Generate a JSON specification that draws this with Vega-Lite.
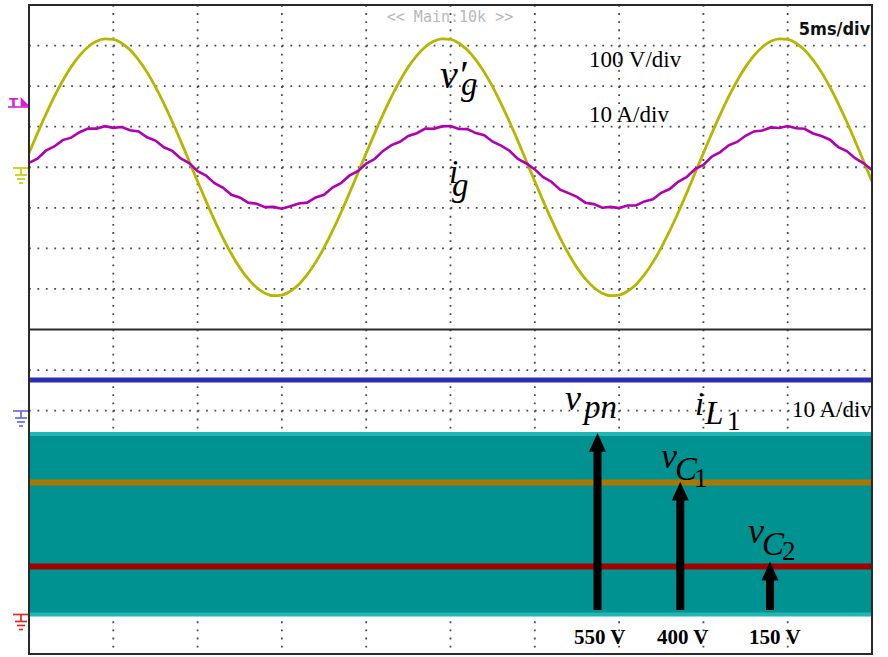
{
 "$schema": "https://vega.github.io/schema/vega-lite/v6.json",
 "width": 888,
 "height": 657,
 "autosize": {"type": "fit", "contains": "padding"},
 "padding": 0,
 "background": "white",
 "config": {"view": {"stroke": null}},
 "resolve": {"scale": {"y": "independent", "color": "independent"}},
 "datasets": {
  "top": [
   {"t":0,"vg":34.8,"ig":1.08},{"t":0.5,"vg":83.6,"ig":2.13},{"t":1,"vg":130.5,"ig":4.08},{"t":1.5,"vg":174.0,"ig":5.12},{"t":2,"vg":213.3,"ig":6.69},{"t":2.5,"vg":247.4,"ig":7.30},{"t":3,"vg":275.3,"ig":8.63},{"t":3.5,"vg":296.5,"ig":9.54},{"t":4,"vg":310.4,"ig":9.52},{"t":4.5,"vg":316.7,"ig":10.12},
   {"t":5,"vg":315.1,"ig":9.72},{"t":5.5,"vg":305.8,"ig":9.92},{"t":6,"vg":288.9,"ig":9.14},{"t":6.5,"vg":264.9,"ig":8.83},{"t":7,"vg":234.5,"ig":7.40},{"t":7.5,"vg":198.2,"ig":6.59},{"t":8,"vg":157.1,"ig":4.92},{"t":8.5,"vg":112.1,"ig":4.03},{"t":9,"vg":64.3,"ig":2.18},{"t":9.5,"vg":14.9,"ig":1.03},
   {"t":10,"vg":-34.8,"ig":-0.98},{"t":10.5,"vg":-83.6,"ig":-2.03},{"t":11,"vg":-130.5,"ig":-3.93},{"t":11.5,"vg":-174.0,"ig":-5.02},{"t":12,"vg":-213.3,"ig":-6.79},{"t":12.5,"vg":-247.4,"ig":-7.45},{"t":13,"vg":-275.3,"ig":-8.73},{"t":13.5,"vg":-296.5,"ig":-8.99},{"t":14,"vg":-310.4,"ig":-9.82},{"t":14.5,"vg":-316.7,"ig":-9.77},
   {"t":15,"vg":-315.1,"ig":-10.22},{"t":15.5,"vg":-305.8,"ig":-9.62},{"t":16,"vg":-288.9,"ig":-8.94},{"t":16.5,"vg":-264.9,"ig":-8.73},{"t":17,"vg":-234.5,"ig":-7.45},{"t":17.5,"vg":-198.2,"ig":-6.79},{"t":18,"vg":-157.1,"ig":-5.02},{"t":18.5,"vg":-112.1,"ig":-3.93},{"t":19,"vg":-64.3,"ig":-2.08},{"t":19.5,"vg":-14.9,"ig":-0.98},
   {"t":20,"vg":34.8,"ig":0.88},{"t":20.5,"vg":83.6,"ig":2.03},{"t":21,"vg":130.5,"ig":4.03},{"t":21.5,"vg":174.0,"ig":5.47},{"t":22,"vg":213.3,"ig":6.29},{"t":22.5,"vg":247.4,"ig":7.70},{"t":23,"vg":275.3,"ig":8.38},{"t":23.5,"vg":296.5,"ig":9.54},{"t":24,"vg":310.4,"ig":9.47},{"t":24.5,"vg":316.7,"ig":10.07},
   {"t":25,"vg":315.1,"ig":10.17},{"t":25.5,"vg":305.8,"ig":9.42},{"t":26,"vg":288.9,"ig":9.39},{"t":26.5,"vg":264.9,"ig":8.43},{"t":27,"vg":234.5,"ig":7.90},{"t":27.5,"vg":198.2,"ig":6.29},{"t":28,"vg":157.1,"ig":5.32},{"t":28.5,"vg":112.1,"ig":4.08},{"t":29,"vg":64.3,"ig":2.03},{"t":29.5,"vg":14.9,"ig":0.93},
   {"t":30,"vg":-34.8,"ig":-0.53},{"t":30.5,"vg":-83.6,"ig":-2.43},{"t":31,"vg":-130.5,"ig":-3.63},{"t":31.5,"vg":-174.0,"ig":-5.52},{"t":32,"vg":-213.3,"ig":-6.39},{"t":32.5,"vg":-247.4,"ig":-7.30},{"t":33,"vg":-275.3,"ig":-8.73},{"t":33.5,"vg":-296.5,"ig":-9.09},{"t":34,"vg":-310.4,"ig":-9.97},{"t":34.5,"vg":-316.7,"ig":-9.77},
   {"t":35,"vg":-315.1,"ig":-10.07},{"t":35.5,"vg":-305.8,"ig":-9.42},{"t":36,"vg":-288.9,"ig":-9.44},{"t":36.5,"vg":-264.9,"ig":-8.43},{"t":37,"vg":-234.5,"ig":-7.90},{"t":37.5,"vg":-198.2,"ig":-6.29},{"t":38,"vg":-157.1,"ig":-5.37},{"t":38.5,"vg":-112.1,"ig":-3.58},{"t":39,"vg":-64.3,"ig":-2.43},{"t":39.5,"vg":-14.9,"ig":-0.48},
   {"t":40,"vg":34.8,"ig":0.58},{"t":40.5,"vg":83.6,"ig":2.63},{"t":41,"vg":130.5,"ig":3.73},{"t":41.5,"vg":174.0,"ig":5.42},{"t":42,"vg":213.3,"ig":6.24},{"t":42.5,"vg":247.4,"ig":7.75},{"t":43,"vg":275.3,"ig":8.83},{"t":43.5,"vg":296.5,"ig":9.04},{"t":44,"vg":310.4,"ig":9.82},{"t":44.5,"vg":316.7,"ig":9.67},
   {"t":45,"vg":315.1,"ig":10.17},{"t":45.5,"vg":305.8,"ig":9.62},{"t":46,"vg":288.9,"ig":9.49},{"t":46.5,"vg":264.9,"ig":8.33},{"t":47,"vg":234.5,"ig":7.70},{"t":47.5,"vg":198.2,"ig":6.79},{"t":48,"vg":157.1,"ig":4.97},{"t":48.5,"vg":112.1,"ig":3.98},{"t":49,"vg":64.3,"ig":2.23},{"t":49.5,"vg":14.9,"ig":0.98},
   {"t":50,"vg":-34.8,"ig":-0.68}
  ],
  "band": [{"trace":"v_pn","ta":0,"tb":50,"lo":0,"hi":550}],
  "arrows": [
   {"trace":"v_pn","t":33.719,"base":13.7,"neck":523.1,"tip":553.1},
   {"trace":"v_C1","t":38.63,"base":13.7,"neck":374.7,"tip":404.7},
   {"trace":"v_C2","t":43.95,"base":13.7,"neck":130.9,"tip":160.9}
  ]
 },
 "layer": [
  {
   "data": {"values": [{"t":5,"da":0,"db":16},{"t":10,"da":0,"db":16},{"t":15,"da":0,"db":16},{"t":20,"da":0,"db":16},{"t":25,"da":0,"db":16},{"t":30,"da":0,"db":16},{"t":35,"da":0,"db":16},{"t":40,"da":0,"db":16},{"t":45,"da":0,"db":16}]},
   "mark": {"type": "rule", "stroke": "#4a4a4a", "strokeWidth": 1.8, "strokeDash": [1.8, 6.31]},
   "encoding": {
    "x": {"field": "t", "type": "quantitative", "scale": {"domain": [-1.72, 50.949], "nice": false, "zero": false}, "axis": null},
    "y": {"field": "da", "type": "quantitative", "scale": {"domain": [-0.1233, 16.074], "reverse": true, "nice": false, "zero": false}, "axis": null},
    "y2": {"field": "db"}
   }
  },
  {
   "data": {"values": [{"d":1,"ta":0,"tb":50},{"d":2,"ta":0,"tb":50},{"d":3,"ta":0,"tb":50},{"d":4,"ta":0,"tb":50},{"d":5,"ta":0,"tb":50},{"d":6,"ta":0,"tb":50},{"d":7,"ta":0,"tb":50},{"d":9,"ta":0,"tb":50},{"d":10,"ta":0,"tb":50},{"d":11,"ta":0,"tb":50},{"d":12,"ta":0,"tb":50},{"d":13,"ta":0,"tb":50},{"d":14,"ta":0,"tb":50},{"d":15,"ta":0,"tb":50}]},
   "mark": {"type": "rule", "stroke": "#4a4a4a", "strokeWidth": 1.8, "strokeDash": [1.8, 6.63]},
   "encoding": {
    "x": {"field": "ta", "type": "quantitative", "scale": {"domain": [-1.72, 50.949], "nice": false, "zero": false}, "axis": null},
    "x2": {"field": "tb"},
    "y": {"field": "d", "type": "quantitative", "scale": {"domain": [-0.1233, 16.074], "reverse": true, "nice": false, "zero": false}, "axis": null}
   }
  },
  {
   "data": {"name": "band"},
   "mark": {"type": "rect", "fill": "#009291"},
   "encoding": {
    "x": {"field": "ta", "type": "quantitative", "scale": {"domain": [-1.72, 50.949], "nice": false, "zero": false}, "axis": null},
    "x2": {"field": "tb"},
    "y": {"field": "hi", "type": "quantitative", "scale": {"domain": [-129.5, 1872.4], "nice": false, "zero": false}, "axis": null},
    "y2": {"field": "lo"}
   }
  },
  {
   "data": {"name": "band"},
   "mark": {"type": "rule", "stroke": "#1fb6b6", "strokeWidth": 4},
   "encoding": {
    "x": {"field": "ta", "type": "quantitative", "scale": {"domain": [-1.72, 50.949], "nice": false, "zero": false}, "axis": null},
    "x2": {"field": "tb"},
    "y": {"field": "hi", "type": "quantitative", "scale": {"domain": [-129.5, 1872.4], "nice": false, "zero": false}, "axis": null}
   }
  },
  {
   "data": {"name": "band"},
   "mark": {"type": "rule", "stroke": "#1fb6b6", "strokeWidth": 4},
   "encoding": {
    "x": {"field": "ta", "type": "quantitative", "scale": {"domain": [-1.72, 50.949], "nice": false, "zero": false}, "axis": null},
    "x2": {"field": "tb"},
    "y": {"field": "lo", "type": "quantitative", "scale": {"domain": [-129.5, 1872.4], "nice": false, "zero": false}, "axis": null}
   }
  },
  {
   "data": {"values": [{"trace":"v_C1","ta":0,"tb":50,"v":402.2},{"trace":"v_C2","ta":0,"tb":50,"v":146.3}]},
   "mark": {"type": "rule", "strokeWidth": 6},
   "encoding": {
    "x": {"field": "ta", "type": "quantitative", "scale": {"domain": [-1.72, 50.949], "nice": false, "zero": false}, "axis": null},
    "x2": {"field": "tb"},
    "y": {"field": "v", "type": "quantitative", "scale": {"domain": [-129.5, 1872.4], "nice": false, "zero": false}, "axis": null},
    "color": {"field": "trace", "type": "nominal", "scale": {"domain": ["v_C1", "v_C2"], "range": ["#a87800", "#a30000"]}, "legend": null}
   }
  },
  {
   "data": {"values": [{"trace":"i_L1","ta":0,"tb":50,"i":7.55}]},
   "mark": {"type": "rule", "strokeWidth": 5, "stroke": "#2b2db3"},
   "encoding": {
    "x": {"field": "ta", "type": "quantitative", "scale": {"domain": [-1.72, 50.949], "nice": false, "zero": false}, "axis": null},
    "x2": {"field": "tb"},
    "y": {"field": "i", "type": "quantitative", "scale": {"domain": [-60.74, 101.23], "nice": false, "zero": false}, "axis": null}
   }
  },
  {
   "data": {"name": "top"},
   "mark": {"type": "line", "stroke": "#b8b500", "strokeWidth": 2.8, "interpolate": "monotone"},
   "encoding": {
    "x": {"field": "t", "type": "quantitative", "scale": {"domain": [-1.72, 50.949], "nice": false, "zero": false}, "axis": null},
    "y": {"field": "vg", "type": "quantitative", "scale": {"domain": [-1207.4, 412.33], "nice": false, "zero": false}, "axis": null}
   }
  },
  {
   "data": {"name": "top"},
   "mark": {"type": "line", "stroke": "#b000b0", "strokeWidth": 2.6},
   "encoding": {
    "x": {"field": "t", "type": "quantitative", "scale": {"domain": [-1.72, 50.949], "nice": false, "zero": false}, "axis": null},
    "y": {"field": "ig", "type": "quantitative", "scale": {"domain": [-120.74, 41.233], "nice": false, "zero": false}, "axis": null}
   }
  },
  {
   "data": {"name": "arrows"},
   "mark": {"type": "rule", "stroke": "#000000", "strokeWidth": 8},
   "encoding": {
    "x": {"field": "t", "type": "quantitative", "scale": {"domain": [-1.72, 50.949], "nice": false, "zero": false}, "axis": null},
    "y": {"field": "base", "type": "quantitative", "scale": {"domain": [-129.5, 1872.4], "nice": false, "zero": false}, "axis": null},
    "y2": {"field": "neck"}
   }
  },
  {
   "data": {"name": "arrows"},
   "mark": {"type": "point", "shape": "M0,0L1,2.2L-1,2.2Z", "filled": true, "fill": "#000000", "size": 289, "opacity": 1, "strokeWidth": 0},
   "encoding": {
    "x": {"field": "t", "type": "quantitative", "scale": {"domain": [-1.72, 50.949], "nice": false, "zero": false}, "axis": null},
    "y": {"field": "tip", "type": "quantitative", "scale": {"domain": [-129.5, 1872.4], "nice": false, "zero": false}, "axis": null}
   }
  },
  {
   "data": {"values": [
    {"ch":"CH1","ta":-0.949,"tb":0,"da":4.0185,"db":4.0185},
    {"ch":"CH1","ta":-0.474,"tb":-0.474,"da":4.0185,"db":4.1911},
    {"ch":"CH1","ta":-0.830,"tb":-0.119,"da":4.1911,"db":4.1911},
    {"ch":"CH1","ta":-0.712,"tb":-0.237,"da":4.2897,"db":4.2897},
    {"ch":"CH1","ta":-0.593,"tb":-0.356,"da":4.3883,"db":4.3883},
    {"ch":"CH2","ta":-0.949,"tb":0,"da":10.0092,"db":10.0092},
    {"ch":"CH2","ta":-0.474,"tb":-0.474,"da":10.0092,"db":10.1818},
    {"ch":"CH2","ta":-0.830,"tb":-0.119,"da":10.1818,"db":10.1818},
    {"ch":"CH2","ta":-0.712,"tb":-0.237,"da":10.2804,"db":10.2804},
    {"ch":"CH2","ta":-0.593,"tb":-0.356,"da":10.3790,"db":10.3790},
    {"ch":"CH3","ta":-0.949,"tb":0,"da":15.0262,"db":15.0262},
    {"ch":"CH3","ta":-0.474,"tb":-0.474,"da":15.0262,"db":15.1988},
    {"ch":"CH3","ta":-0.830,"tb":-0.119,"da":15.1988,"db":15.1988},
    {"ch":"CH3","ta":-0.712,"tb":-0.237,"da":15.2974,"db":15.2974},
    {"ch":"CH3","ta":-0.593,"tb":-0.356,"da":15.3960,"db":15.3960}
   ]},
   "mark": {"type": "rule", "strokeWidth": 1.7},
   "encoding": {
    "x": {"field": "ta", "type": "quantitative", "scale": {"domain": [-1.72, 50.949], "nice": false, "zero": false}, "axis": null},
    "x2": {"field": "tb"},
    "y": {"field": "da", "type": "quantitative", "scale": {"domain": [-0.1233, 16.074], "reverse": true, "nice": false, "zero": false}, "axis": null},
    "y2": {"field": "db"},
    "color": {"field": "ch", "type": "nominal", "scale": {"domain": ["CH1", "CH2", "CH3"], "range": ["#cfcb00", "#6a6ae4", "#e32626"]}, "legend": null}
   }
  },
  {
   "data": {"values": [{"ta":-1.246,"tb":0,"d":2.5146}]},
   "mark": {"type": "rule", "stroke": "#d81ed8", "strokeWidth": 1.6},
   "encoding": {
    "x": {"field": "ta", "type": "quantitative", "scale": {"domain": [-1.72, 50.949], "nice": false, "zero": false}, "axis": null},
    "x2": {"field": "tb"},
    "y": {"field": "d", "type": "quantitative", "scale": {"domain": [-0.1233, 16.074], "reverse": true, "nice": false, "zero": false}, "axis": null}
   }
  },
  {
   "data": {"values": [{"t":-0.219,"d":2.3865}]},
   "mark": {"type": "point", "shape": "M-1,-1L1,1L-1,1Z", "filled": true, "fill": "#d81ed8", "size": 88, "opacity": 1, "strokeWidth": 0},
   "encoding": {
    "x": {"field": "t", "type": "quantitative", "scale": {"domain": [-1.72, 50.949], "nice": false, "zero": false}, "axis": null},
    "y": {"field": "d", "type": "quantitative", "scale": {"domain": [-0.1233, 16.074], "reverse": true, "nice": false, "zero": false}, "axis": null}
   }
  },
  {
   "data": {"values": [{"label":"T","t":-0.919,"d":2.5023}]},
   "mark": {"type": "text", "font": "DejaVu Sans", "fontSize": 13, "fontWeight": "bold", "fill": "#d81ed8", "align": "center", "baseline": "alphabetic"},
   "encoding": {
    "x": {"field": "t", "type": "quantitative", "scale": {"domain": [-1.72, 50.949], "nice": false, "zero": false}, "axis": null},
    "y": {"field": "d", "type": "quantitative", "scale": {"domain": [-0.1233, 16.074], "reverse": true, "nice": false, "zero": false}, "axis": null},
    "text": {"field": "label"}
   }
  },
  {
   "data": {"values": [{"ta":0,"tb":50,"da":0,"db":0},{"ta":0,"tb":50,"da":16,"db":16},{"ta":0,"tb":0,"da":0,"db":16},{"ta":50,"tb":50,"da":0,"db":16},{"ta":0,"tb":50,"da":8,"db":8}]},
   "mark": {"type": "rule", "stroke": "#2a2a2a", "strokeWidth": 2, "strokeCap": "square"},
   "encoding": {
    "x": {"field": "ta", "type": "quantitative", "scale": {"domain": [-1.72, 50.949], "nice": false, "zero": false}, "axis": null},
    "x2": {"field": "tb"},
    "y": {"field": "da", "type": "quantitative", "scale": {"domain": [-0.1233, 16.074], "reverse": true, "nice": false, "zero": false}, "axis": null},
    "y2": {"field": "db"}
   }
  },
  {
   "data": {"values": [{"label":"<< Main:10k >>","t":24.97,"d":0.41}]},
   "mark": {"type": "text", "font": "DejaVu Sans Mono", "fontSize": 15, "fill": "#b8b8b8", "align": "center", "baseline": "alphabetic"},
   "encoding": {
    "x": {"field": "t", "type": "quantitative", "scale": {"domain": [-1.72, 50.949], "nice": false, "zero": false}, "axis": null},
    "y": {"field": "d", "type": "quantitative", "scale": {"domain": [-0.1233, 16.074], "reverse": true, "nice": false, "zero": false}, "axis": null},
    "text": {"field": "label"}
   }
  },
  {
   "data": {"values": [{"label":"5ms/div","t":45.66,"d":0.74}]},
   "mark": {"type": "text", "font": "DejaVu Sans Condensed, DejaVu Sans", "fontSize": 18, "fontWeight": "bold", "fill": "#111111", "align": "left", "baseline": "alphabetic"},
   "encoding": {
    "x": {"field": "t", "type": "quantitative", "scale": {"domain": [-1.72, 50.949], "nice": false, "zero": false}, "axis": null},
    "y": {"field": "d", "type": "quantitative", "scale": {"domain": [-0.1233, 16.074], "reverse": true, "nice": false, "zero": false}, "axis": null},
    "text": {"field": "label"}
   }
  },
  {
   "data": {"values": [{"label":"100 V/div","t":33.215,"d":1.5285},{"label":"10 A/div","t":33.215,"d":2.8844},{"label":"10 A/div","t":45.255,"d":10.1572}]},
   "mark": {"type": "text", "font": "Liberation Serif", "fontSize": 23, "fill": "#000000", "align": "left", "baseline": "alphabetic"},
   "encoding": {
    "x": {"field": "t", "type": "quantitative", "scale": {"domain": [-1.72, 50.949], "nice": false, "zero": false}, "axis": null},
    "y": {"field": "d", "type": "quantitative", "scale": {"domain": [-0.1233, 16.074], "reverse": true, "nice": false, "zero": false}, "axis": null},
    "text": {"field": "label"}
   }
  },
  {
   "data": {"values": [{"label":"v′","t":24.377,"d":2.0462}]},
   "mark": {"type": "text", "font": "Liberation Serif", "fontSize": 40, "fontStyle": "italic", "fill": "#000000", "align": "left", "baseline": "alphabetic"},
   "encoding": {
    "x": {"field": "t", "type": "quantitative", "scale": {"domain": [-1.72, 50.949], "nice": false, "zero": false}, "axis": null},
    "y": {"field": "d", "type": "quantitative", "scale": {"domain": [-0.1233, 16.074], "reverse": true, "nice": false, "zero": false}, "axis": null},
    "text": {"field": "label"}
   }
  },
  {
   "data": {"values": [{"label":"v","t":31.791,"d":9.9846},{"label":"v","t":37.485,"d":11.4145},{"label":"v","t":42.645,"d":13.2635}]},
   "mark": {"type": "text", "font": "Liberation Serif", "fontSize": 36, "fontStyle": "italic", "fill": "#000000", "align": "left", "baseline": "alphabetic"},
   "encoding": {
    "x": {"field": "t", "type": "quantitative", "scale": {"domain": [-1.72, 50.949], "nice": false, "zero": false}, "axis": null},
    "y": {"field": "d", "type": "quantitative", "scale": {"domain": [-0.1233, 16.074], "reverse": true, "nice": false, "zero": false}, "axis": null},
    "text": {"field": "label"}
   }
  },
  {
   "data": {"values": [{"label":"g","t":25.623,"d":2.2188},{"label":"i","t":24.911,"d":4.3883},{"label":"g","t":25.089,"d":4.7088},{"label":"pn","t":32.918,"d":10.1818},{"label":"i","t":39.502,"d":10.1079},{"label":"L","t":40.095,"d":10.3298},{"label":"C","t":38.316,"d":11.7103},{"label":"C","t":43.476,"d":13.5593}]},
   "mark": {"type": "text", "font": "Liberation Serif", "fontSize": 33, "fontStyle": "italic", "fill": "#000000", "align": "left", "baseline": "alphabetic"},
   "encoding": {
    "x": {"field": "t", "type": "quantitative", "scale": {"domain": [-1.72, 50.949], "nice": false, "zero": false}, "axis": null},
    "y": {"field": "d", "type": "quantitative", "scale": {"domain": [-0.1233, 16.074], "reverse": true, "nice": false, "zero": false}, "axis": null},
    "text": {"field": "label"}
   }
  },
  {
   "data": {"values": [{"label":"1","t":41.40,"d":10.4777},{"label":"1","t":39.442,"d":11.8829},{"label":"2","t":44.662,"d":13.6826}]},
   "mark": {"type": "text", "font": "Liberation Serif", "fontSize": 27, "fill": "#000000", "align": "left", "baseline": "alphabetic"},
   "encoding": {
    "x": {"field": "t", "type": "quantitative", "scale": {"domain": [-1.72, 50.949], "nice": false, "zero": false}, "axis": null},
    "y": {"field": "d", "type": "quantitative", "scale": {"domain": [-0.1233, 16.074], "reverse": true, "nice": false, "zero": false}, "axis": null},
    "text": {"field": "label"}
   }
  },
  {
   "data": {"values": [{"label":"550 V","t":32.325,"d":15.7535},{"label":"400 V","t":37.248,"d":15.7535},{"label":"150 V","t":42.705,"d":15.7535}]},
   "mark": {"type": "text", "font": "Liberation Serif", "fontSize": 21, "fontWeight": "bold", "fill": "#000000", "align": "left", "baseline": "alphabetic"},
   "encoding": {
    "x": {"field": "t", "type": "quantitative", "scale": {"domain": [-1.72, 50.949], "nice": false, "zero": false}, "axis": null},
    "y": {"field": "d", "type": "quantitative", "scale": {"domain": [-0.1233, 16.074], "reverse": true, "nice": false, "zero": false}, "axis": null},
    "text": {"field": "label"}
   }
  }
 ]
}
